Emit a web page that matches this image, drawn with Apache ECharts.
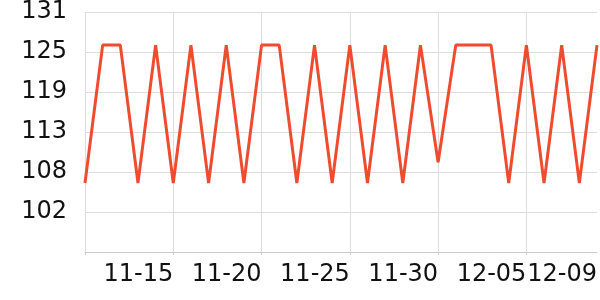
<!DOCTYPE html>
<html>
<head>
<meta charset="utf-8">
<script src="https://cdn.jsdelivr.net/npm/echarts@6/dist/echarts.min.js"></script>
<style>html,body{margin:0;padding:0;background:#fff}#c{width:600px;height:300px}</style>
</head>
<body>
<div id="c"></div>
<script>
const dates = ['11-10','11-11','11-12','11-13','11-14','11-15','11-16','11-17','11-18','11-19',
  '11-20','11-21','11-22','11-23','11-24','11-25','11-26','11-27','11-28','11-29',
  '11-30','12-01','12-02','12-03','12-04','12-05','12-06','12-07','12-08','12-09'];
const values = [106,126,126,106,126,106,126,106,126,106,
  126,126,106,126,106,126,106,126,106,126,
  109,126,126,126,106,126,106,126,106,126];
const yMin = 96, yMax = 130.8, yStep = 5.8;

const chart = echarts.init(document.getElementById('c'), null, {renderer: 'canvas'});
chart.setOption({
  animation: false,
  grid: {left: 85, right: 0, top: 10, bottom: 48, containLabel: false},
  xAxis: {
    type: 'category',
    data: dates,
    boundaryGap: false,
    axisLine: {lineStyle: {color: '#cccccc', width: 1}},
    axisTick: {show: true, interval: 4, length: 3, lineStyle: {color: '#cccccc'}},
    splitLine: {show: true, interval: 4, lineStyle: {color: '#dddddd', width: 1}},
    axisLabel: {
      interval: function (i) { return i > 0 && (i % 5 === 0 || i === dates.length - 1); },
      align: 'right',
      fontSize: 24,
      fontFamily: 'DejaVu Sans',
      color: '#111',
      margin: 11
    }
  },
  yAxis: {
    type: 'value',
    min: yMin, max: yMax, interval: yStep,
    axisLine: {show: false},
    axisTick: {show: false},
    splitLine: {show: true, lineStyle: {color: '#dddddd', width: 1}},
    axisLabel: {
      showMinLabel: false,
      fontSize: 24,
      fontFamily: 'DejaVu Sans',
      color: '#111',
      margin: 18,
      formatter: function (v) { return String(Math.round(v)); }
    }
  },
  series: [{
    type: 'line',
    data: values,
    showSymbol: false,
    symbol: 'none',
    lineStyle: {color: '#ef4b2f', width: 3},
    itemStyle: {color: '#ef4b2f'}
  }]
});
</script>
</body>
</html>
